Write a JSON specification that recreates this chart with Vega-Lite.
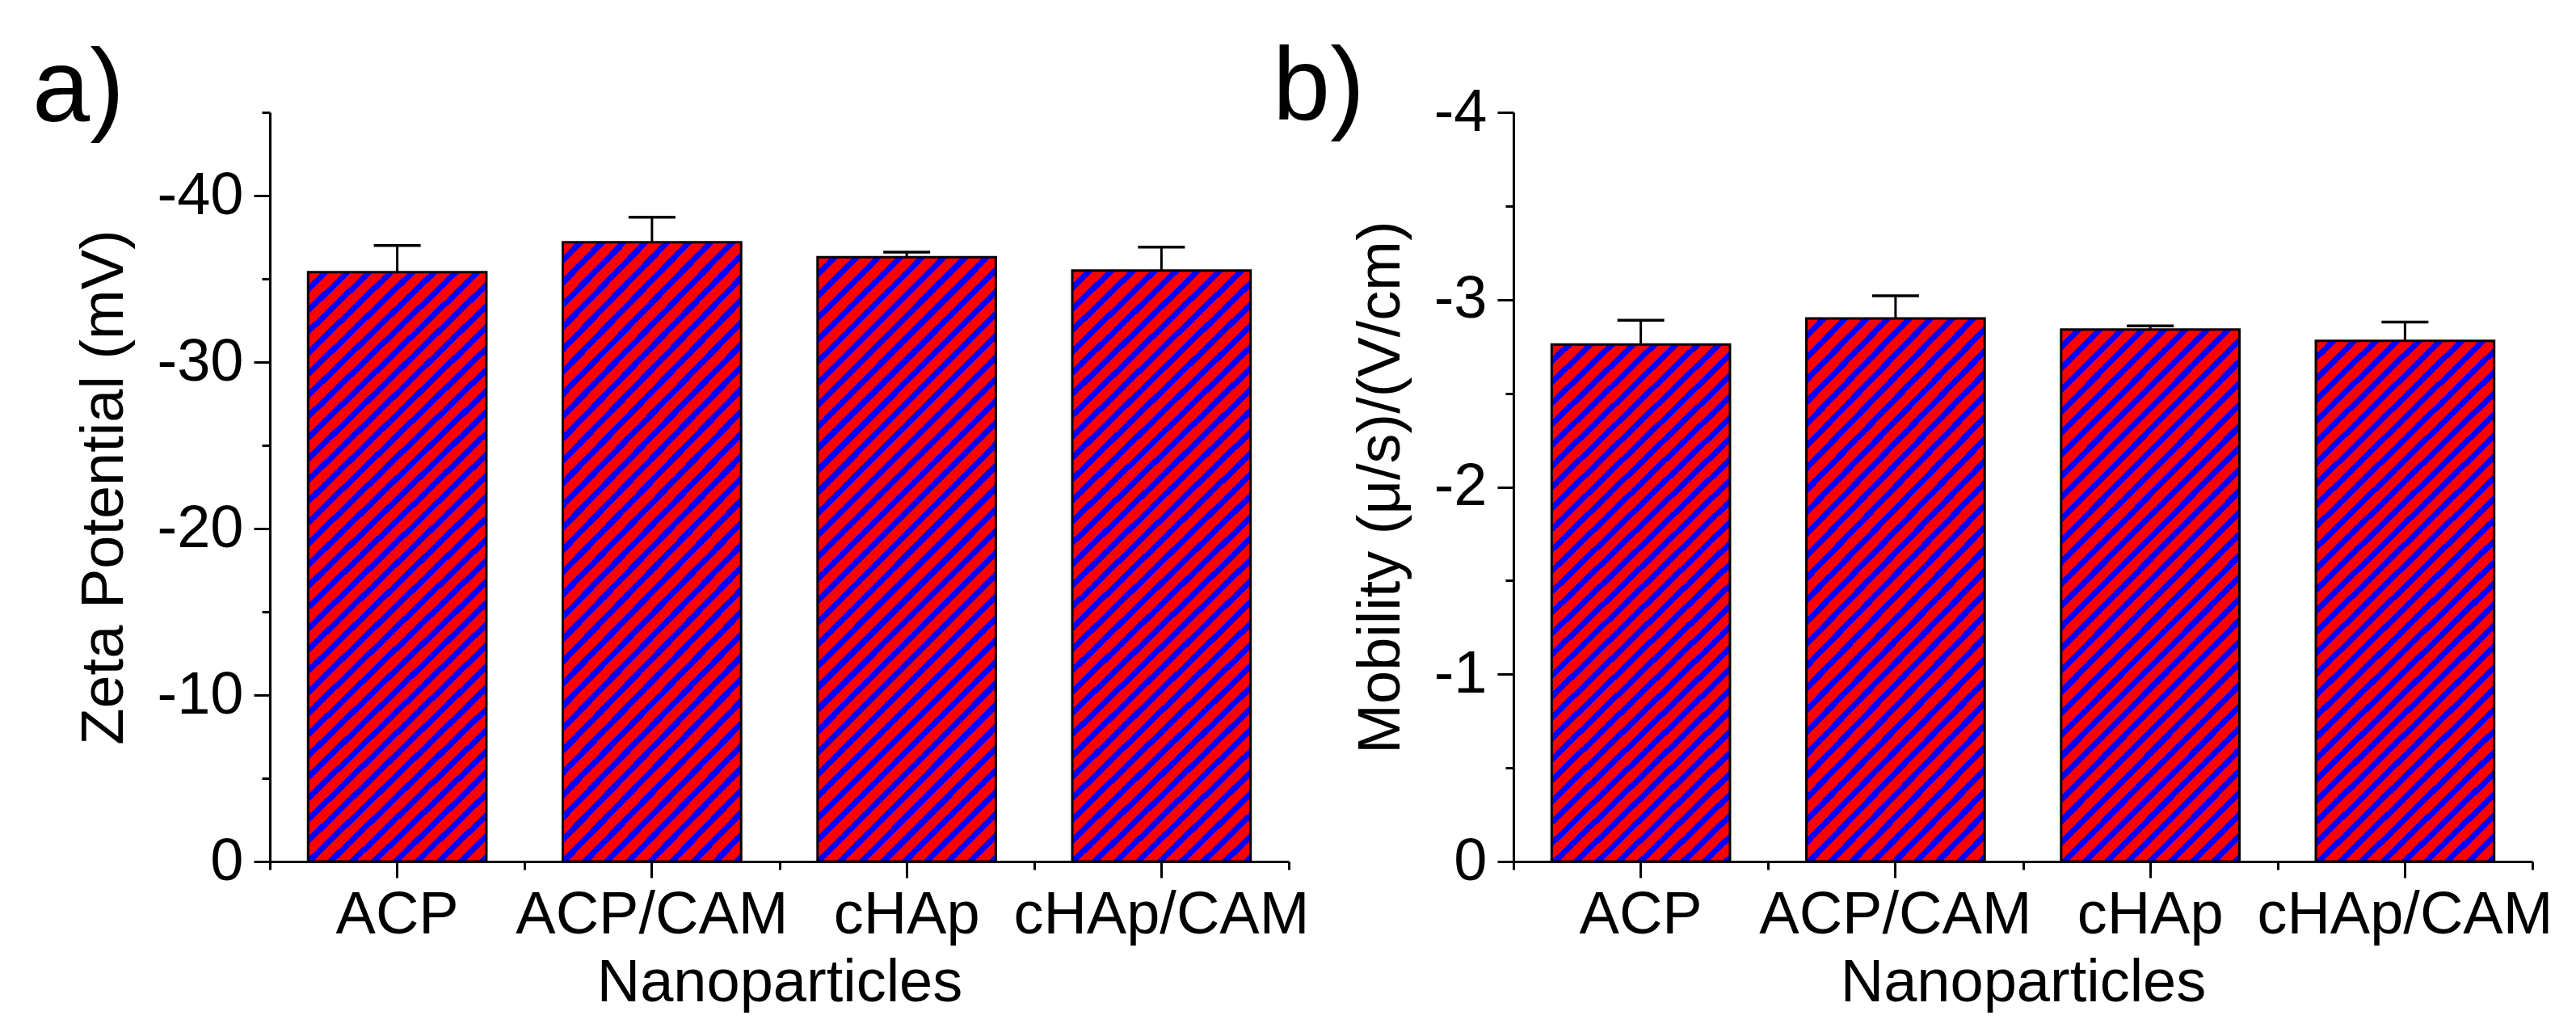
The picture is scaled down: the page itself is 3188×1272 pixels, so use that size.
{
  "$schema": "https://vega.github.io/schema/vega-lite/v6.json",
  "background": "white",
  "padding": {"left": 40, "top": 46, "right": 0, "bottom": 0},
  "datasets": {
    "zeta": [
      {"sample": "ACP", "value": -35.4, "err": -37.0},
      {"sample": "ACP/CAM", "value": -37.2, "err": -38.7},
      {"sample": "cHAp", "value": -36.3, "err": -36.6},
      {"sample": "cHAp/CAM", "value": -35.5, "err": -36.9}
    ],
    "mobility": [
      {"sample": "ACP", "value": -2.76, "err": -2.89},
      {"sample": "ACP/CAM", "value": -2.90, "err": -3.02},
      {"sample": "cHAp", "value": -2.84, "err": -2.86},
      {"sample": "cHAp/CAM", "value": -2.78, "err": -2.88}
    ]
  },
  "bounds": "flush",
  "spacing": 278,
  "hconcat": [
    {
      "width": 1261,
      "height": 927,
      "data": {"name": "zeta"},
      "title": {"text": "a)", "anchor": "start", "frame": "group", "fontSize": 128, "fontWeight": "normal", "color": "black", "baseline": "alphabetic", "offset": 0, "dx": -294, "dy": 140},
      "layer": [
        {
          "mark": {"type": "bar", "stroke": "black", "strokeWidth": 3, "width": {"band": 0.7},
            "fill": {"gradient": "linear", "x1": 0, "y1": 0, "x2": 0.3521, "y2": 1.1915, "stops": [
              {"offset": 0, "color": "red"},
              {"offset": 0.0172, "color": "red"}, {"offset": 0.0172, "color": "blue"}, {"offset": 0.0278, "color": "blue"}, {"offset": 0.0278, "color": "red"},
              {"offset": 0.0450, "color": "red"}, {"offset": 0.0450, "color": "blue"}, {"offset": 0.0556, "color": "blue"}, {"offset": 0.0556, "color": "red"},
              {"offset": 0.0728, "color": "red"}, {"offset": 0.0728, "color": "blue"}, {"offset": 0.0833, "color": "blue"}, {"offset": 0.0833, "color": "red"},
              {"offset": 0.1006, "color": "red"}, {"offset": 0.1006, "color": "blue"}, {"offset": 0.1111, "color": "blue"}, {"offset": 0.1111, "color": "red"},
              {"offset": 0.1283, "color": "red"}, {"offset": 0.1283, "color": "blue"}, {"offset": 0.1389, "color": "blue"}, {"offset": 0.1389, "color": "red"},
              {"offset": 0.1561, "color": "red"}, {"offset": 0.1561, "color": "blue"}, {"offset": 0.1667, "color": "blue"}, {"offset": 0.1667, "color": "red"},
              {"offset": 0.1839, "color": "red"}, {"offset": 0.1839, "color": "blue"}, {"offset": 0.1944, "color": "blue"}, {"offset": 0.1944, "color": "red"},
              {"offset": 0.2117, "color": "red"}, {"offset": 0.2117, "color": "blue"}, {"offset": 0.2222, "color": "blue"}, {"offset": 0.2222, "color": "red"},
              {"offset": 0.2394, "color": "red"}, {"offset": 0.2394, "color": "blue"}, {"offset": 0.2500, "color": "blue"}, {"offset": 0.2500, "color": "red"},
              {"offset": 0.2672, "color": "red"}, {"offset": 0.2672, "color": "blue"}, {"offset": 0.2778, "color": "blue"}, {"offset": 0.2778, "color": "red"},
              {"offset": 0.2950, "color": "red"}, {"offset": 0.2950, "color": "blue"}, {"offset": 0.3056, "color": "blue"}, {"offset": 0.3056, "color": "red"},
              {"offset": 0.3228, "color": "red"}, {"offset": 0.3228, "color": "blue"}, {"offset": 0.3333, "color": "blue"}, {"offset": 0.3333, "color": "red"},
              {"offset": 0.3506, "color": "red"}, {"offset": 0.3506, "color": "blue"}, {"offset": 0.3611, "color": "blue"}, {"offset": 0.3611, "color": "red"},
              {"offset": 0.3783, "color": "red"}, {"offset": 0.3783, "color": "blue"}, {"offset": 0.3889, "color": "blue"}, {"offset": 0.3889, "color": "red"},
              {"offset": 0.4061, "color": "red"}, {"offset": 0.4061, "color": "blue"}, {"offset": 0.4167, "color": "blue"}, {"offset": 0.4167, "color": "red"},
              {"offset": 0.4339, "color": "red"}, {"offset": 0.4339, "color": "blue"}, {"offset": 0.4444, "color": "blue"}, {"offset": 0.4444, "color": "red"},
              {"offset": 0.4617, "color": "red"}, {"offset": 0.4617, "color": "blue"}, {"offset": 0.4722, "color": "blue"}, {"offset": 0.4722, "color": "red"},
              {"offset": 0.4894, "color": "red"}, {"offset": 0.4894, "color": "blue"}, {"offset": 0.5000, "color": "blue"}, {"offset": 0.5000, "color": "red"},
              {"offset": 0.5172, "color": "red"}, {"offset": 0.5172, "color": "blue"}, {"offset": 0.5278, "color": "blue"}, {"offset": 0.5278, "color": "red"},
              {"offset": 0.5450, "color": "red"}, {"offset": 0.5450, "color": "blue"}, {"offset": 0.5556, "color": "blue"}, {"offset": 0.5556, "color": "red"},
              {"offset": 0.5728, "color": "red"}, {"offset": 0.5728, "color": "blue"}, {"offset": 0.5833, "color": "blue"}, {"offset": 0.5833, "color": "red"},
              {"offset": 0.6006, "color": "red"}, {"offset": 0.6006, "color": "blue"}, {"offset": 0.6111, "color": "blue"}, {"offset": 0.6111, "color": "red"},
              {"offset": 0.6283, "color": "red"}, {"offset": 0.6283, "color": "blue"}, {"offset": 0.6389, "color": "blue"}, {"offset": 0.6389, "color": "red"},
              {"offset": 0.6561, "color": "red"}, {"offset": 0.6561, "color": "blue"}, {"offset": 0.6667, "color": "blue"}, {"offset": 0.6667, "color": "red"},
              {"offset": 0.6839, "color": "red"}, {"offset": 0.6839, "color": "blue"}, {"offset": 0.6944, "color": "blue"}, {"offset": 0.6944, "color": "red"},
              {"offset": 0.7117, "color": "red"}, {"offset": 0.7117, "color": "blue"}, {"offset": 0.7222, "color": "blue"}, {"offset": 0.7222, "color": "red"},
              {"offset": 0.7394, "color": "red"}, {"offset": 0.7394, "color": "blue"}, {"offset": 0.7500, "color": "blue"}, {"offset": 0.7500, "color": "red"},
              {"offset": 0.7672, "color": "red"}, {"offset": 0.7672, "color": "blue"}, {"offset": 0.7778, "color": "blue"}, {"offset": 0.7778, "color": "red"},
              {"offset": 0.7950, "color": "red"}, {"offset": 0.7950, "color": "blue"}, {"offset": 0.8056, "color": "blue"}, {"offset": 0.8056, "color": "red"},
              {"offset": 0.8228, "color": "red"}, {"offset": 0.8228, "color": "blue"}, {"offset": 0.8333, "color": "blue"}, {"offset": 0.8333, "color": "red"},
              {"offset": 0.8506, "color": "red"}, {"offset": 0.8506, "color": "blue"}, {"offset": 0.8611, "color": "blue"}, {"offset": 0.8611, "color": "red"},
              {"offset": 0.8783, "color": "red"}, {"offset": 0.8783, "color": "blue"}, {"offset": 0.8889, "color": "blue"}, {"offset": 0.8889, "color": "red"},
              {"offset": 0.9061, "color": "red"}, {"offset": 0.9061, "color": "blue"}, {"offset": 0.9167, "color": "blue"}, {"offset": 0.9167, "color": "red"},
              {"offset": 0.9339, "color": "red"}, {"offset": 0.9339, "color": "blue"}, {"offset": 0.9444, "color": "blue"}, {"offset": 0.9444, "color": "red"},
              {"offset": 0.9617, "color": "red"}, {"offset": 0.9617, "color": "blue"}, {"offset": 0.9722, "color": "blue"}, {"offset": 0.9722, "color": "red"},
              {"offset": 0.9894, "color": "red"}, {"offset": 0.9894, "color": "blue"}, {"offset": 1, "color": "blue"}
            ]}},
          "encoding": {
            "x": {"field": "sample", "type": "nominal", "sort": null,
              "scale": {"paddingInner": 0, "paddingOuter": 0},
              "axis": {"title": "Nanoparticles", "labelAngle": 0, "tickSize": 20, "labelPadding": 10, "titlePadding": 11, "labelLimit": 1000, "labelOverlap": false}},
            "y": {"field": "value", "type": "quantitative",
              "scale": {"domain": [0, -45], "nice": false, "zero": false},
              "axis": {"title": "Zeta Potential (mV)", "values": [0, -5, -10, -15, -20, -25, -30, -35, -40, -45],
                "labelExpr": "datum.value % 10 === 0 ? '' + datum.value : ''",
                "tickSize": {"condition": {"test": "datum.value % 10 === 0", "value": 20}, "value": 10},
                "labelPadding": 13, "titlePadding": 27}}
          }
        },
        {
          "mark": {"type": "rule", "color": "black", "strokeWidth": 3},
          "encoding": {
            "x": {"field": "sample", "type": "nominal", "sort": null,
              "axis": {"orient": "bottom", "tickBand": "extent", "labels": false, "domain": false, "title": null, "tickSize": 10}},
            "y": {"field": "value", "type": "quantitative"},
            "y2": {"field": "err"}
          }
        },
        {
          "mark": {"type": "tick", "color": "black", "thickness": 3.5, "size": 58, "opacity": 1},
          "encoding": {
            "x": {"field": "sample", "type": "nominal", "sort": null, "axis": null},
            "y": {"field": "err", "type": "quantitative"}
          }
        }
      ],
      "resolve": {"axis": {"x": "independent"}}
    },
    {
      "width": 1261,
      "height": 927,
      "data": {"name": "mobility"},
      "title": {"text": "b)", "anchor": "start", "frame": "group", "fontSize": 128, "fontWeight": "normal", "color": "black", "baseline": "alphabetic", "offset": 0, "dx": -298, "dy": 174},
      "layer": [
        {
          "mark": {"type": "bar", "stroke": "black", "strokeWidth": 3, "width": {"band": 0.7},
            "fill": {"gradient": "linear", "x1": 0, "y1": 0, "x2": 0.4051, "y2": 1.2008, "stops": [
              {"offset": 0, "color": "red"},
              {"offset": 0.0188, "color": "red"}, {"offset": 0.0188, "color": "blue"}, {"offset": 0.0303, "color": "blue"}, {"offset": 0.0303, "color": "red"},
              {"offset": 0.0491, "color": "red"}, {"offset": 0.0491, "color": "blue"}, {"offset": 0.0606, "color": "blue"}, {"offset": 0.0606, "color": "red"},
              {"offset": 0.0794, "color": "red"}, {"offset": 0.0794, "color": "blue"}, {"offset": 0.0909, "color": "blue"}, {"offset": 0.0909, "color": "red"},
              {"offset": 0.1097, "color": "red"}, {"offset": 0.1097, "color": "blue"}, {"offset": 0.1212, "color": "blue"}, {"offset": 0.1212, "color": "red"},
              {"offset": 0.1400, "color": "red"}, {"offset": 0.1400, "color": "blue"}, {"offset": 0.1515, "color": "blue"}, {"offset": 0.1515, "color": "red"},
              {"offset": 0.1703, "color": "red"}, {"offset": 0.1703, "color": "blue"}, {"offset": 0.1818, "color": "blue"}, {"offset": 0.1818, "color": "red"},
              {"offset": 0.2006, "color": "red"}, {"offset": 0.2006, "color": "blue"}, {"offset": 0.2121, "color": "blue"}, {"offset": 0.2121, "color": "red"},
              {"offset": 0.2309, "color": "red"}, {"offset": 0.2309, "color": "blue"}, {"offset": 0.2424, "color": "blue"}, {"offset": 0.2424, "color": "red"},
              {"offset": 0.2612, "color": "red"}, {"offset": 0.2612, "color": "blue"}, {"offset": 0.2727, "color": "blue"}, {"offset": 0.2727, "color": "red"},
              {"offset": 0.2915, "color": "red"}, {"offset": 0.2915, "color": "blue"}, {"offset": 0.3030, "color": "blue"}, {"offset": 0.3030, "color": "red"},
              {"offset": 0.3218, "color": "red"}, {"offset": 0.3218, "color": "blue"}, {"offset": 0.3333, "color": "blue"}, {"offset": 0.3333, "color": "red"},
              {"offset": 0.3521, "color": "red"}, {"offset": 0.3521, "color": "blue"}, {"offset": 0.3636, "color": "blue"}, {"offset": 0.3636, "color": "red"},
              {"offset": 0.3824, "color": "red"}, {"offset": 0.3824, "color": "blue"}, {"offset": 0.3939, "color": "blue"}, {"offset": 0.3939, "color": "red"},
              {"offset": 0.4127, "color": "red"}, {"offset": 0.4127, "color": "blue"}, {"offset": 0.4242, "color": "blue"}, {"offset": 0.4242, "color": "red"},
              {"offset": 0.4430, "color": "red"}, {"offset": 0.4430, "color": "blue"}, {"offset": 0.4545, "color": "blue"}, {"offset": 0.4545, "color": "red"},
              {"offset": 0.4733, "color": "red"}, {"offset": 0.4733, "color": "blue"}, {"offset": 0.4848, "color": "blue"}, {"offset": 0.4848, "color": "red"},
              {"offset": 0.5036, "color": "red"}, {"offset": 0.5036, "color": "blue"}, {"offset": 0.5152, "color": "blue"}, {"offset": 0.5152, "color": "red"},
              {"offset": 0.5339, "color": "red"}, {"offset": 0.5339, "color": "blue"}, {"offset": 0.5455, "color": "blue"}, {"offset": 0.5455, "color": "red"},
              {"offset": 0.5642, "color": "red"}, {"offset": 0.5642, "color": "blue"}, {"offset": 0.5758, "color": "blue"}, {"offset": 0.5758, "color": "red"},
              {"offset": 0.5945, "color": "red"}, {"offset": 0.5945, "color": "blue"}, {"offset": 0.6061, "color": "blue"}, {"offset": 0.6061, "color": "red"},
              {"offset": 0.6248, "color": "red"}, {"offset": 0.6248, "color": "blue"}, {"offset": 0.6364, "color": "blue"}, {"offset": 0.6364, "color": "red"},
              {"offset": 0.6551, "color": "red"}, {"offset": 0.6551, "color": "blue"}, {"offset": 0.6667, "color": "blue"}, {"offset": 0.6667, "color": "red"},
              {"offset": 0.6854, "color": "red"}, {"offset": 0.6854, "color": "blue"}, {"offset": 0.6970, "color": "blue"}, {"offset": 0.6970, "color": "red"},
              {"offset": 0.7157, "color": "red"}, {"offset": 0.7157, "color": "blue"}, {"offset": 0.7273, "color": "blue"}, {"offset": 0.7273, "color": "red"},
              {"offset": 0.7460, "color": "red"}, {"offset": 0.7460, "color": "blue"}, {"offset": 0.7576, "color": "blue"}, {"offset": 0.7576, "color": "red"},
              {"offset": 0.7763, "color": "red"}, {"offset": 0.7763, "color": "blue"}, {"offset": 0.7879, "color": "blue"}, {"offset": 0.7879, "color": "red"},
              {"offset": 0.8066, "color": "red"}, {"offset": 0.8066, "color": "blue"}, {"offset": 0.8182, "color": "blue"}, {"offset": 0.8182, "color": "red"},
              {"offset": 0.8369, "color": "red"}, {"offset": 0.8369, "color": "blue"}, {"offset": 0.8485, "color": "blue"}, {"offset": 0.8485, "color": "red"},
              {"offset": 0.8672, "color": "red"}, {"offset": 0.8672, "color": "blue"}, {"offset": 0.8788, "color": "blue"}, {"offset": 0.8788, "color": "red"},
              {"offset": 0.8975, "color": "red"}, {"offset": 0.8975, "color": "blue"}, {"offset": 0.9091, "color": "blue"}, {"offset": 0.9091, "color": "red"},
              {"offset": 0.9278, "color": "red"}, {"offset": 0.9278, "color": "blue"}, {"offset": 0.9394, "color": "blue"}, {"offset": 0.9394, "color": "red"},
              {"offset": 0.9581, "color": "red"}, {"offset": 0.9581, "color": "blue"}, {"offset": 0.9697, "color": "blue"}, {"offset": 0.9697, "color": "red"},
              {"offset": 0.9884, "color": "red"}, {"offset": 0.9884, "color": "blue"}, {"offset": 1, "color": "blue"}
            ]}},
          "encoding": {
            "x": {"field": "sample", "type": "nominal", "sort": null,
              "scale": {"paddingInner": 0, "paddingOuter": 0},
              "axis": {"title": "Nanoparticles", "labelAngle": 0, "tickSize": 20, "labelPadding": 10, "titlePadding": 11, "labelLimit": 1000, "labelOverlap": false}},
            "y": {"field": "value", "type": "quantitative",
              "scale": {"domain": [0, -4], "nice": false, "zero": false},
              "axis": {"title": "Mobility (μ/s)/(V/cm)", "values": [0, -0.5, -1, -1.5, -2, -2.5, -3, -3.5, -4],
                "labelExpr": "datum.value % 1 === 0 ? '' + datum.value : ''",
                "tickSize": {"condition": {"test": "datum.value % 1 === 0", "value": 20}, "value": 10},
                "labelPadding": 13, "titlePadding": 27}}
          }
        },
        {
          "mark": {"type": "rule", "color": "black", "strokeWidth": 3},
          "encoding": {
            "x": {"field": "sample", "type": "nominal", "sort": null,
              "axis": {"orient": "bottom", "tickBand": "extent", "labels": false, "domain": false, "title": null, "tickSize": 10}},
            "y": {"field": "value", "type": "quantitative"},
            "y2": {"field": "err"}
          }
        },
        {
          "mark": {"type": "tick", "color": "black", "thickness": 3.5, "size": 58, "opacity": 1},
          "encoding": {
            "x": {"field": "sample", "type": "nominal", "sort": null, "axis": null},
            "y": {"field": "err", "type": "quantitative"}
          }
        }
      ],
      "resolve": {"axis": {"x": "independent"}}
    }
  ],
  "config": {
    "font": "Liberation Sans",
    "view": {"stroke": null},
    "axis": {
      "grid": false,
      "domainColor": "black",
      "domainWidth": 3,
      "tickColor": "black",
      "tickWidth": 3,
      "labelColor": "black",
      "titleColor": "black",
      "labelFontSize": 74,
      "titleFontSize": 74,
      "labelFont": "Liberation Sans",
      "titleFont": "Liberation Sans",
      "titleFontWeight": "normal"
    }
  }
}
